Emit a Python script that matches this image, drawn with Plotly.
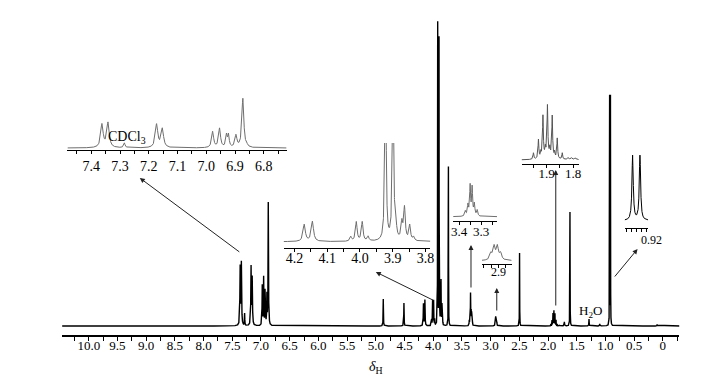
import numpy as np
import plotly.graph_objects as go

W, H = 708, 379
SERIF = "Liberation Serif"

# ---- peak list: shift (ppm), height (a.u.), half width (ppm)
peak_ppm = [7.363, 7.342, 7.285, 7.173, 7.153, 6.978, 6.954, 6.930, 6.923, 6.897, 6.873, 6.858,
            4.870, 4.510, 4.170, 4.145, 4.028, 4.011, 3.993, 3.975,
            3.922, 3.899, 3.890, 3.872, 3.864, 3.848, 3.836, 3.735,
            3.372, 3.360, 3.350, 3.341, 3.331, 3.318,
            2.921, 2.912, 2.903, 2.894, 2.496,
            1.950, 1.931, 1.922, 1.914, 1.905, 1.897, 1.888, 1.879, 1.870, 1.860, 1.841, 1.897,
            1.818, 1.806, 1.792, 1.716, 1.618, 1.286, 1.100, 0.9274, 0.9126, 0.100]
peak_height = [58, 62, 12, 58, 47, 40, 48, 30, 30, 30, 123, 3,
               27, 23, 22, 26, 6, 25, 25, 6,
               302, 288, 15, 22, 42, 20, 5, 161,
               5, 11, 30, 28, 12, 6,
               4, 8, 8, 4, 73,
               1.8, 5.4, 1.6, 11.8, 2.2, 14.2, 2.2, 11.8, 1.6, 5.8, 1.8, 1.2,
               0.6, 0.5, 0.5, 4, 114, 7, 2, 232, 232, 1.5]
peak_hwhm = [0.005, 0.005, 0.003, 0.005, 0.005, 0.004, 0.004, 0.003, 0.003, 0.004, 0.004, 0.003,
             0.003, 0.003, 0.004, 0.004, 0.003, 0.003, 0.003, 0.003,
             0.002, 0.002, 0.003, 0.003, 0.003, 0.003, 0.003, 0.002,
             0.003, 0.003, 0.0025, 0.0025, 0.003, 0.003,
             0.0035, 0.0035, 0.0035, 0.0035, 0.002,
             0.0018, 0.0018, 0.0018, 0.0018, 0.0018, 0.0018, 0.0018, 0.0018, 0.0018, 0.0018, 0.0018, 0.02,
             0.003, 0.003, 0.003, 0.004, 0.002, 0.003, 0.004, 0.0016, 0.0016, 0.004]

# main axis ticks
main_tickvals = [10.25 - 0.25 * i for i in range(43)]
main_ticktext = [("%.1f" % v if v != 0 else "0") if abs(v * 2 - round(v * 2)) < 1e-9 and v >= 0 else "" for v in main_tickvals]


def spectrum(x):
    y = np.zeros_like(x)
    for p, h, g in zip(peak_ppm, peak_height, peak_hwhm):
        y += h * g * g / (g * g + (x - p) ** 2)
    return y


def px(x):
    return x / W


def py(y):
    return 1 - y / H


fig = go.Figure()

# main spectrum
xm = np.arange(-0.3, 10.48, 0.0004)
fig.add_trace(go.Scatter(x=xm, y=spectrum(xm), mode="lines",
                         line=dict(color="black", width=1.4), xaxis="x", yaxis="y",
                         hoverinfo="skip", showlegend=False))

layout = dict(
    width=W, height=H, margin=dict(l=0, r=0, t=0, b=0),
    paper_bgcolor="white", plot_bgcolor="rgba(0,0,0,0)", showlegend=False,
    xaxis=dict(domain=[px(60.7), px(683)], range=[10.463, -0.285], anchor="y",
               showline=True, linecolor="black", linewidth=1.5, ticks="outside",
               ticklen=4, tickwidth=1, tickcolor="black", tickvals=main_tickvals,
               ticktext=main_ticktext, tickfont=dict(family=SERIF, size=13, color="black"),
               ticklabelstandoff=-6, showgrid=False, zeroline=False),
    yaxis=dict(domain=[py(335), py(15)], range=[-9, 311], visible=False, anchor="x"),
)

# insets: (x px range, ppm range, axis-line y px, top y px, y range, ticks, font, colour, label shift)
insets = [
    dict(xp=(66, 287), pr=(7.483, 6.721), yb=150, yt=90, yr=(-5, 145),
         tv=[round(7.45 - 0.05 * i, 2) for i in range(15)], fs=14, col="#6e6e6e", so=0),
    dict(xp=(284, 432), pr=(4.233, 3.785), yb=248.3, yt=143, yr=(-8.6, 128),
         tv=[round(4.2 - 0.05 * i, 2) for i in range(9)], fs=14, col="#6e6e6e", so=-6),
    dict(xp=(455, 499.3), pr=(3.427, 3.228), yb=220.7, yt=178.7, yr=(-4, 38),
         tv=[3.40, 3.35, 3.30, 3.25], fs=13, col="#6e6e6e", so=-4),
    dict(xp=(484, 514), pr=(2.9457, 2.8636), yb=264, yt=240, yr=(-2, 12.4),
         tv=[2.94, 2.92, 2.90, 2.88], fs=12, col="#6e6e6e", so=-6),
    dict(xp=(524, 581.7), pr=(1.9948, 1.7787), yb=164, yt=95, yr=(-1.14, 18.6),
         tv=[1.95, 1.90, 1.85, 1.80], fs=13, col="#555555", so=-6),
    dict(xp=(628, 651.7), pr=(0.9434, 0.896), yb=227.7, yt=150, yr=(-25, 253),
         tv=[0.94, 0.93, 0.92, 0.91, 0.90], fs=12, col="black", so=0),
]

for k, ins in enumerate(insets, start=2):
    lo, hi = min(ins["pr"]), max(ins["pr"])
    xs = np.linspace(lo, hi, 3000)
    fig.add_trace(go.Scatter(x=xs, y=spectrum(xs), mode="lines",
                             line=dict(color=ins["col"], width=1), xaxis="x%d" % k,
                             yaxis="y%d" % k, hoverinfo="skip", showlegend=False))
    if k == 7:
        tt = [""] * len(ins["tv"])
    elif k == 5:
        tt = ["2.9" if abs(v - 2.9) < 1e-6 else "" for v in ins["tv"]]
    else:
        tt = []
        for v in ins["tv"]:
            r = round(v * 10)
            tt.append("%.1f" % v if abs(v * 10 - r) < 1e-6 else "")
    layout["xaxis%d" % k] = dict(
        domain=[px(ins["xp"][0]), px(ins["xp"][1])], range=list(ins["pr"]),
        anchor="y%d" % k, showline=True, linecolor="black", linewidth=1,
        ticks="outside", ticklen=3, tickwidth=1, tickcolor="black",
        tickvals=ins["tv"], ticktext=tt, ticklabelstandoff=ins["so"],
        tickfont=dict(family=SERIF, size=ins["fs"], color="black"),
        showgrid=False, zeroline=False)
    layout["yaxis%d" % k] = dict(domain=[py(ins["yb"]), py(ins["yt"])],
                                 range=list(ins["yr"]), visible=False, anchor="x%d" % k)

# arrows: (head x, head y, tail x, tail y) in pixels
arrows = [(139, 178, 240, 253), (377, 272, 436, 301), (473, 245, 473, 289),
          (499, 288, 499, 312), (558.5, 170, 558.5, 307), (641, 249, 617, 278)]
ann = []
for hx, hy, tx, ty in arrows:
    ann.append(dict(x=px(hx), y=py(hy), xref="paper", yref="paper", text="",
                    showarrow=True, ax=tx - hx, ay=ty - hy, arrowhead=2,
                    arrowsize=1, arrowwidth=1, arrowcolor="#222222", standoff=0))

texts = [("CDCl<sub>3</sub>", 126, 137, 14), ("H<sub>2</sub>O", 594, 311, 13),
         ("<i>δ</i><sub>H</sub>", 377, 367, 14), ("0.92", 655, 240, 12)]
for t, x, y, s in texts:
    ann.append(dict(x=px(x), y=py(y), xref="paper", yref="paper", text=t,
                    showarrow=False, font=dict(family=SERIF, size=s, color="black"),
                    xanchor="center", yanchor="middle"))
layout["annotations"] = ann

fig.update_layout(**layout)
fig.write_html("out.html", config={"displayModeBar": False},
               post_script="document.body.style.margin='0';document.body.style.padding='0';")
